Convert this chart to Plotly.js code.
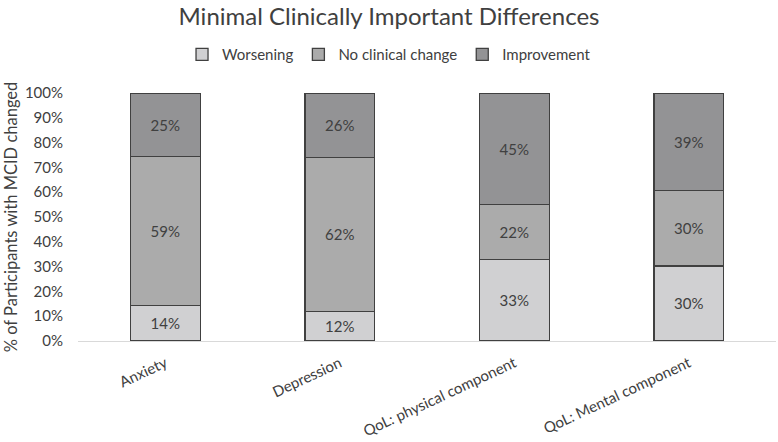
<!DOCTYPE html>
<html><head><meta charset="utf-8">
<script src="https://cdn.plot.ly/plotly-3.0.1.min.js"></script>
<style>html,body{margin:0;padding:0;background:#fff}</style>
</head><body>
<div id="chart" style="width:778px;height:442px"></div>
<script>
const categories = ["Anxiety", "Depression", "QoL: physical component", "QoL: Mental component"];
const worsening = [14, 12, 33, 30];
const noChange = [59, 62, 22, 30];
const improvement = [25, 26, 45, 39];
const seriesNames = ["Worsening", "No clinical change", "Improvement"];
const seriesColors = ["#d0d0d2", "#ababab", "#939395"];
const yTickVals = [0,10,20,30,40,50,60,70,80,90,100];
const yTickText = yTickVals.map(v => v + "%");

const FONT = "Lato, 'Open Sans', sans-serif";
const allSeries = [worsening, noChange, improvement];
const traces = allSeries.map((vals, i) => ({
  type: "bar",
  name: seriesNames[i],
  x: categories,
  y: vals,
  text: vals.map(v => v + "%"),
  textposition: "inside",
  insidetextanchor: "middle",
  textangle: 0,
  constraintext: "none",
  textfont: {family: FONT, size: 15, color: "#404040"},
  hoverinfo: "none",
  marker: {color: seriesColors[i], line: {color: "#404040", width: 1.3}}
}));

const layout = {
  width: 778, height: 442,
  margin: {l: 78, r: 2, t: 93, b: 101},
  paper_bgcolor: "#fff", plot_bgcolor: "#fff",
  barmode: "stack", barnorm: "percent", bargap: 0.6,
  font: {family: FONT, color: "#404040"},
  title: {text: "Minimal Clinically Important Differences", font: {family: FONT, size: 24, color: "#404040"}, x: 0.5, xanchor: "center", y: 0.963, yanchor: "middle"},
  showlegend: true,
  legend: {orientation: "h", x: 0.4456, xanchor: "center", y: 1.155, yanchor: "middle", font: {family: FONT, size: 15, color: "#404040"}, traceorder: "normal", itemwidth: 30},
  xaxis: {
    showgrid: false, showline: true, linecolor: "#d9d9d9", linewidth: 1, automargin: false,
    ticks: "", tickangle: -25, ticklabelstandoff: 7, tickfont: {family: FONT, size: 15, color: "#404040"}, fixedrange: true
  },
  yaxis: {
    range: [0, 100], tickvals: yTickVals, ticktext: yTickText, showgrid: false, zeroline: false, showline: false, automargin: false,
    ticks: "", ticklabelstandoff: 14, tickfont: {family: FONT, size: 15, color: "#404040"},
    title: {text: "% of Participants with MCID changed", font: {family: FONT, size: 16.5, color: "#404040"}, standoff: 3}
  }
};
Plotly.newPlot("chart", traces, layout, {displayModeBar: false, staticPlot: true});
</script>
</body></html>
